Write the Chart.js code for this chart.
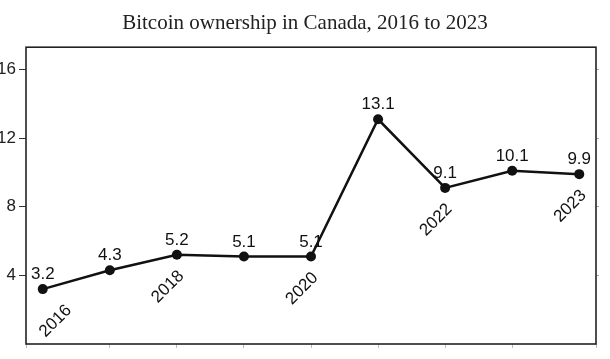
<!DOCTYPE html>
<html>
<head>
<meta charset="utf-8">
<script src="https://cdn.jsdelivr.net/npm/chart.js@4.4.0/dist/chart.umd.min.js"></script>
<style>
  html, body { margin: 0; padding: 0; background: #fff; }
  #wrap { width: 610px; height: 359px; }
</style>
</head>
<body>
<div id="wrap"><canvas id="chart" width="610" height="359"></canvas></div>
<script>
  "use strict";

  // survey years, two samples in 2022
  const years = ["2016", "2017", "2018", "2019", "2020", "2021", "2022", "2022", "2023"];
  const ownership = [3.2, 4.3, 5.2, 5.1, 5.1, 13.1, 9.1, 10.1, 9.9];
  // only every other year gets a label under its point
  const yearLabelIdx = [0, 2, 4, 6, 8];
  const yTicks = [4, 8, 12, 16];

  const sans = '"Liberation Sans", Arial, sans-serif';

  var keepTicks = function (scale) {
    scale.ticks = yTicks.map(v => ({ value: v }));
  };

  // box around the plot
  const frame = {
    id: 'frame',
    afterDraw(chart) {
      const a = chart.chartArea, ctx = chart.ctx;
      ctx.save();
      ctx.strokeStyle = '#222';
      ctx.lineWidth = 1.6;
      ctx.strokeRect(a.left, a.top, a.right - a.left, a.bottom - a.top);
      ctx.restore();
    }
  };

  // value above each point, rotated year below some of them
  const pointText = {
    id: 'pointText',
    afterDatasetsDraw(chart) {
      const ctx = chart.ctx;
      const area = chart.chartArea;
      const pts = chart.getDatasetMeta(0).data;
      ctx.save();
      ctx.fillStyle = '#111';
      ctx.font = '17px ' + sans;
      ctx.textAlign = 'center';
      ctx.textBaseline = 'alphabetic';
      pts.forEach((p, i) => ctx.fillText(ownership[i].toFixed(1), p.x, p.y - 10));

      yearLabelIdx.forEach(i => {
        const p = pts[i];
        const w = ctx.measureText(years[i]).width;
        const half = (w + 12) / Math.SQRT2 / 2;
        let cx = p.x - 9;
        // keep clear of the left frame
        if (cx - half < area.left + 12) cx = area.left + 12 + half;
        ctx.save();
        ctx.translate(cx, p.y + 32);
        ctx.rotate(-Math.PI / 4);
        ctx.textBaseline = 'middle';
        ctx.fillText(years[i], 0, 0);
        ctx.restore();
      });
      ctx.restore();
    }
  };

  new Chart(document.getElementById("chart"), {
    type: "line",
    data: {
      datasets: [{
        data: ownership.map((v, i) => ({ x: i, y: v })),
        borderColor: "#111",
        borderWidth: 2.5,
        pointRadius: 5,
        pointBackgroundColor: "#111",
        pointBorderWidth: 0,
        tension: 0,
        clip: false
      }]
    },
    options: {
      responsive: false,
      animation: false,
      devicePixelRatio: 1,
      layout: { padding: 0 },
      plugins: {
        legend: { display: false },
        tooltip: { enabled: false },
        title: {
          display: true,
          text: "Bitcoin ownership in Canada, 2016 to 2023",
          color: "#222",
          font: { family: '"Liberation Serif", serif', size: 21, weight: 'normal' },
          padding: { top: 11, bottom: 11 }
        }
      },
      scales: {
        x: {
          type: "linear",
          min: -0.25,
          max: 8.25,
          ticks: { display: false, stepSize: 1 },
          grid: { drawOnChartArea: false, tickLength: 4, color: "#bbb" },
          border: { display: false },
          afterFit: function (s) { s.height = 15; }
        },
        y: {
          position: "left",
          min: 0,
          max: 17.3,
          afterBuildTicks: keepTicks,
          ticks: { color: "#222", padding: 3, font: { family: sans, size: 17 } },
          grid: { drawOnChartArea: false, tickLength: 7, color: "#333" },
          border: { display: false },
          afterFit: function (s) { s.width = 26; }
        },
        y2: {
          position: "right",
          min: 0,
          max: 17.3,
          afterBuildTicks: keepTicks,
          ticks: { display: false },
          grid: { drawOnChartArea: false, tickLength: 3, color: "#aaa" },
          border: { display: false },
          afterFit: function (s) { s.width = 14; }
        }
      }
    },
    plugins: [frame, pointText]
  });
</script>
</body>
</html>
